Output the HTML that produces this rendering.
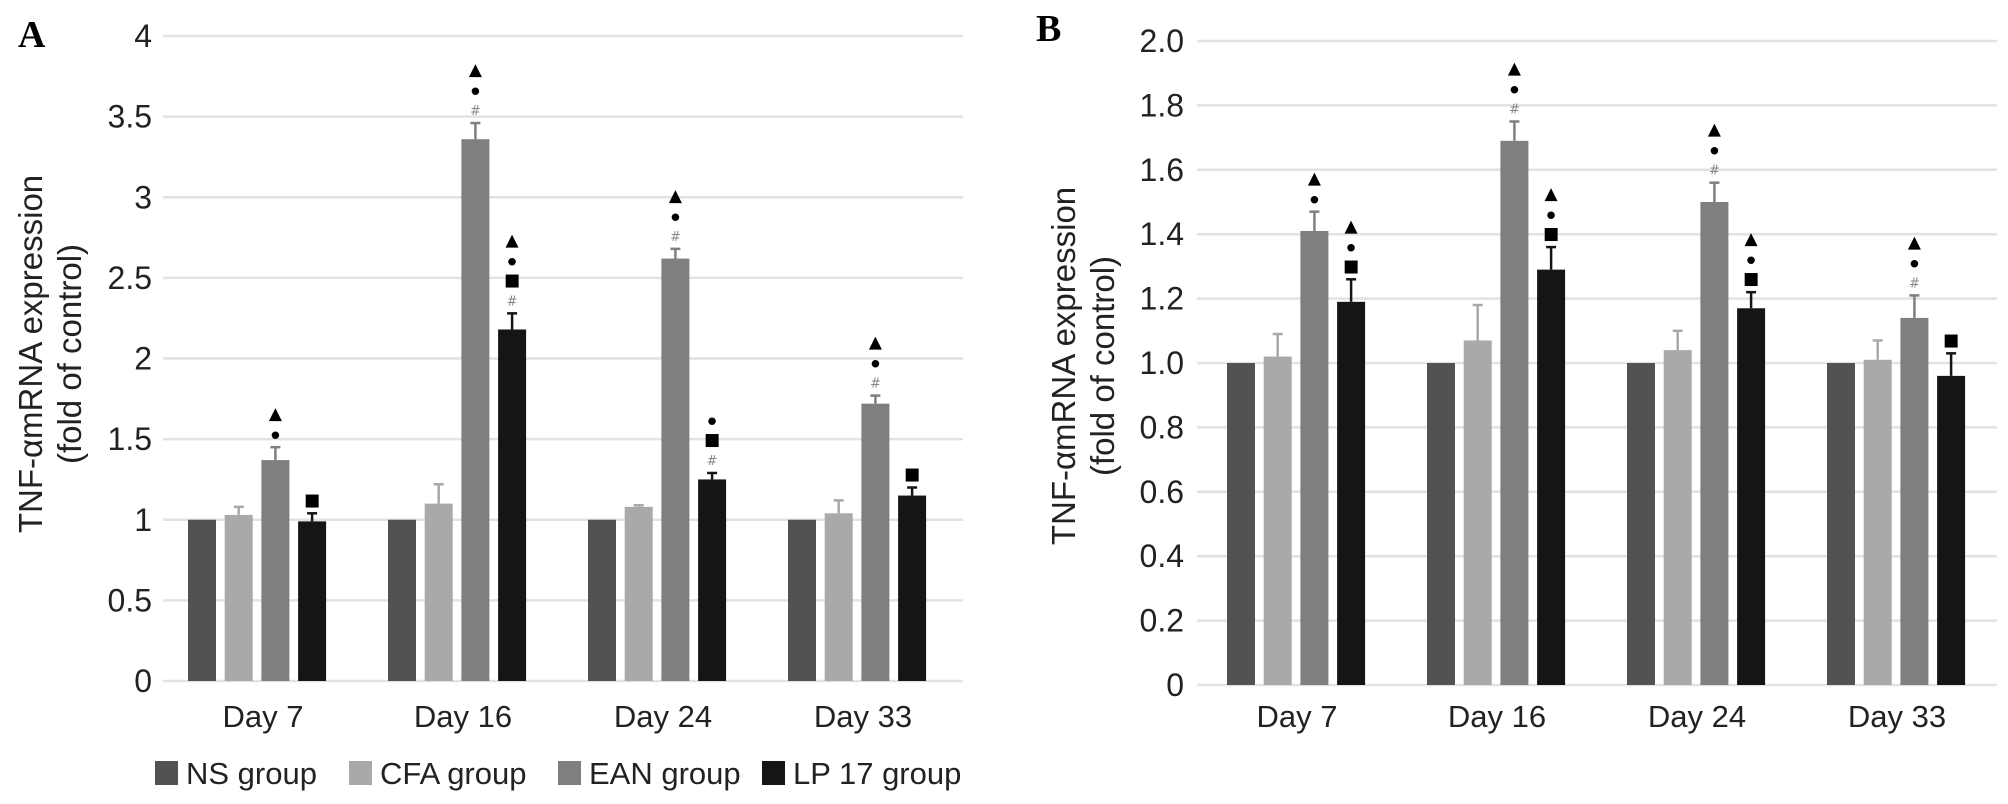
<!DOCTYPE html>
<html><head><meta charset="utf-8">
<style>
html,body{margin:0;padding:0;background:#fff;}
svg{display:block;font-family:"Liberation Sans",Arial,sans-serif;}
</style></head>
<body>
<svg id="chart" width="2008" height="804" viewBox="0 0 2008 804" xmlns="http://www.w3.org/2000/svg">
  <text x="18" y="47" font-family="Liberation Serif,serif" font-weight="bold" font-size="38">A</text>
  <text x="1036" y="41" font-family="Liberation Serif,serif" font-weight="bold" font-size="38">B</text>
  <g transform="translate(42,354) rotate(-90)">
    <text x="0" y="0" text-anchor="middle" font-size="33" fill="#222">TNF-αmRNA expression</text>
    <text x="0" y="39" text-anchor="middle" font-size="33" fill="#222">(fold of control)</text>
  </g>
  <g transform="translate(1075,366) rotate(-90)">
    <text x="0" y="0" text-anchor="middle" font-size="33" fill="#222">TNF-αmRNA expression</text>
    <text x="0" y="39" text-anchor="middle" font-size="33" fill="#222">(fold of control)</text>
  </g>
  <g id="legend"></g>
</svg>
<script>
const categories = ["Day 7","Day 16","Day 24","Day 33"];
const seriesNames = ["NS group","CFA group","EAN group","LP 17 group"];
const colors = ["#525252","#a9a9a9","#7f7f7f","#151515"];

const aTicks = ["0","0.5","1","1.5","2","2.5","3","3.5","4"];
const aTickValues = [0,0.5,1,1.5,2,2.5,3,3.5,4];
const aNS  = [1,1,1,1];
const aCFA = [1.03,1.10,1.08,1.04];
const aEAN = [1.37,3.36,2.62,1.72];
const aLP  = [0.99,2.18,1.25,1.15];
const aNSErr  = [0,0,0,0];
const aCFAErr = [0.05,0.12,0.01,0.08];
const aEANErr = [0.08,0.10,0.06,0.05];
const aLPErr  = [0.05,0.10,0.04,0.05];
const aEANMarks = [["•","▲"],["#","•","▲"],["#","•","▲"],["#","•","▲"]];
const aLPMarks  = [["■"],["#","■","•","▲"],["#","■","•"],["■"]];

const bTicks = ["0","0.2","0.4","0.6","0.8","1.0","1.2","1.4","1.6","1.8","2.0"];
const bTickValues = [0,0.2,0.4,0.6,0.8,1.0,1.2,1.4,1.6,1.8,2.0];
const bNS  = [1,1,1,1];
const bCFA = [1.02,1.07,1.04,1.01];
const bEAN = [1.41,1.69,1.50,1.14];
const bLP  = [1.19,1.29,1.17,0.96];
const bNSErr  = [0,0,0,0];
const bCFAErr = [0.07,0.11,0.06,0.06];
const bEANErr = [0.06,0.06,0.06,0.07];
const bLPErr  = [0.07,0.07,0.05,0.07];
const bEANMarks = [["•","▲"],["#","•","▲"],["#","•","▲"],["#","•","▲"]];
const bLPMarks  = [["■","•","▲"],["■","•","▲"],["■","•","▲"],["■"]];

const NS = "http://www.w3.org/2000/svg";
const svg = document.getElementById('chart');
function mk(tag, attrs, parent){
  const e = document.createElementNS(NS, tag);
  for (const k in attrs) e.setAttribute(k, attrs[k]);
  (parent||svg).appendChild(e);
  return e;
}

function drawPanel(p){
  const g = mk('g', {});
  
  
  const y = v => p.y0 - (v - 0) / p.yMax * (p.y0 - p.yTop);
  const pitch = (p.x1 - p.x0) / categories.length;
  const barW = 28, step = 36.7;
  p.tickValues.forEach((tv, i) => {
    const ln = mk('line', {x1:p.x0, x2:p.x1, y1:y(tv), y2:y(tv), stroke:'#e2e2e2', 'stroke-width':2.5}, g);
    
    
    const t = mk('text', {x:p.tickX, y:y(tv)+11, 'text-anchor':'end', 'font-size':32, fill:'#222'}, g);
    t.textContent = p.ticks[i];
    
    
  });
  categories.forEach((c, ci) => {
    const gx = p.x0 + ci * pitch + p.offset;
    p.series.forEach((vals, si) => {
      const v = vals[ci];
      const bx = gx + si * step;
      const r = mk('rect', {x:bx, y:y(v), width:barW, height:y(0)-y(v), fill:colors[si]}, g);
      
      
      const err = p.errs[si][ci];
      const top = y(v + err);
      if (err > 0) {
        const cx = bx + barW/2;
        const e1 = mk('line', {x1:cx, x2:cx, y1:y(v), y2:top, stroke:colors[si], 'stroke-width':2.5}, g);
        
        
        const e2 = mk('line', {x1:cx-5, x2:cx+5, y1:top, y2:top, stroke:colors[si], 'stroke-width':2.5}, g);
        
        
      }
      let marks = null;
      if (si === 2) marks = p.eanMarks[ci];
      if (si === 3) marks = p.lpMarks[ci];
      if (marks) {
        marks.forEach((m, mi) => {
          const my = top - 8 - mi * 20;
          const t = mk('text', {x:bx+barW/2, y:my, 'text-anchor':'middle',
            'font-size': m === '#' ? 13 : (m === '•' ? 26 : 17),
            fill: m === '#' ? '#888' : '#000', 'font-family':'DejaVu Sans,sans-serif'}, g);
          if (m === '•') t.setAttribute('y', my + 6);
          t.textContent = m;
          
          
        });
      }
    });
    const lt = mk('text', {x:p.x0 + ci*pitch + pitch/2, y:p.labelY, 'text-anchor':'middle', 'font-size':31, fill:'#222'}, g);
    lt.textContent = c;
    
    
  });
}

drawPanel({name:'panel-a', x0:163, x1:963, y0:681, yTop:36, yMax:4, offset:25, tickX:152, labelY:727,
  ticks:aTicks, tickValues:aTickValues, series:[aNS,aCFA,aEAN,aLP], errs:[aNSErr,aCFAErr,aEANErr,aLPErr],
  eanMarks:aEANMarks, lpMarks:aLPMarks});
drawPanel({name:'panel-b', x0:1197, x1:1997, y0:685, yTop:41, yMax:2, offset:30, tickX:1184, labelY:727,
  ticks:bTicks, tickValues:bTickValues, series:[bNS,bCFA,bEAN,bLP], errs:[bNSErr,bCFAErr,bEANErr,bLPErr],
  eanMarks:bEANMarks, lpMarks:bLPMarks});

const legend = document.getElementById('legend');
const legX = [155, 349, 558, 762];
seriesNames.forEach((n, i) => {
  const sw = mk('rect', {x:legX[i], y:761, width:23, height:24, fill:colors[i]}, legend);
  
  
  const t = mk('text', {x:legX[i]+31, y:784, 'font-size':31, fill:'#222'}, legend);
  t.textContent = n;
  
  
});
</script>
</body></html>
